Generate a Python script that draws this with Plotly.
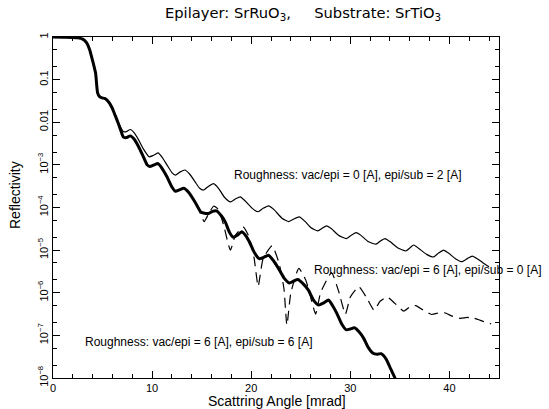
import numpy as np
import plotly.graph_objects as go

# ---- data (log10 of reflectivity) ----
x_66 = [0, 1, 2, 2.5, 3.0, 3.4, 3.7, 3.9, 4.1, 4.3, 4.5, 4.7, 4.95, 5.2, 5.45, 5.7, 5.96, 6.2, 6.46, 6.7,
        6.97, 7.1, 7.4, 7.8, 8.2, 8.65, 9.1, 9.5, 9.77, 10.2, 10.6, 11.0, 11.5, 12.0, 12.35, 12.8, 13.2, 13.7,
        14.4, 14.9, 15.2, 15.7, 16.1, 16.5, 17.0, 17.4, 17.8, 18.2, 18.6, 19.05, 19.5, 19.9, 20.3, 20.8, 21.25,
        21.75, 22.25, 22.75, 23.3, 23.85, 24.25, 24.7, 25.2, 25.8, 26.3, 26.8, 27.3, 27.8, 28.2, 28.65, 29.1,
        29.6, 30.0, 30.4, 30.9, 31.35, 31.8, 32.3, 32.7, 33.1, 33.6, 34.1, 34.5, 35.0]
logR_66 = [0, -0.005, -0.01, -0.02, -0.05, -0.14, -0.3, -0.47, -0.65, -0.85, -1.31, -1.4, -1.43, -1.44, -1.48,
           -1.55, -1.66, -1.8, -1.95, -2.1, -2.28, -2.35, -2.36, -2.32, -2.4, -2.58, -2.8, -3.0, -3.04, -3.0,
           -2.97, -3.08, -3.28, -3.52, -3.62, -3.58, -3.55, -3.65, -3.9, -4.1, -4.13, -4.14, -4.09, -4.08, -4.2,
           -4.35, -4.58, -4.70, -4.65, -4.57, -4.68, -4.85, -5.05, -5.2, -5.17, -5.12, -5.25, -5.43, -5.65,
           -5.77, -5.73, -5.69, -5.78, -5.95, -6.18, -6.29, -6.24, -6.17, -6.3, -6.49, -6.72, -6.87, -6.85,
           -6.82, -6.92, -7.07, -7.28, -7.42, -7.44, -7.43, -7.55, -7.8, -8.0, -8.3]

x_02 = [0, 1, 2, 2.5, 3.0, 3.4, 3.7, 3.9, 4.1, 4.3, 4.5, 4.7, 4.95, 5.2, 5.45, 5.7, 5.96, 6.2, 6.46, 6.7,
        6.97, 7.1, 7.4, 7.8, 8.2, 8.65, 9.1, 9.7, 10.1, 10.6, 11.0, 11.5, 12.0, 12.35, 12.8, 13.3, 13.8, 14.4,
        14.8, 15.2, 15.7, 16.2, 16.7, 17.3, 17.9, 18.4, 18.9, 19.4, 20.1, 20.7, 21.2, 21.75, 22.3, 23.1, 23.8,
        24.3, 24.85, 25.4, 26.0, 26.7, 27.2, 27.6, 28.1, 28.8, 29.6, 30.1, 30.6, 31.1, 31.8, 32.6, 33.0, 33.5,
        34.0, 34.8, 35.6, 36.0, 36.4, 36.9, 37.7, 38.4, 38.9, 39.4, 39.9, 40.6, 41.25, 41.8, 42.3, 42.8,
        43.4, 44.0]
logR_02 = [0, -0.005, -0.01, -0.02, -0.05, -0.14, -0.3, -0.47, -0.65, -0.85, -1.31, -1.4, -1.43, -1.44, -1.48,
           -1.55, -1.65, -1.78, -1.93, -2.06, -2.18, -2.22, -2.22, -2.17, -2.25, -2.42, -2.62, -2.81, -2.78,
           -2.72, -2.82, -3.0, -3.18, -3.24, -3.17, -3.12, -3.22, -3.42, -3.55, -3.59, -3.5, -3.44, -3.55,
           -3.76, -3.87, -3.8, -3.75, -3.85, -4.02, -4.1, -4.02, -3.96, -4.05, -4.25, -4.33, -4.27, -4.22,
           -4.32, -4.47, -4.55, -4.48, -4.43, -4.5, -4.65, -4.73, -4.65, -4.59, -4.66, -4.8, -4.86, -4.79,
           -4.73, -4.8, -4.95, -5.02, -4.95, -4.88, -4.96, -5.1, -5.16, -5.07, -5.0, -5.07, -5.2, -5.27, -5.2,
           -5.14, -5.2, -5.3, -5.39]

x_60 = [0, 1, 2, 2.5, 3.0, 3.4, 3.7, 3.9, 4.1, 4.3, 4.5, 4.7, 4.95, 5.2, 5.45, 5.7, 5.96, 6.2, 6.46, 6.7,
        6.97, 7.1, 7.4, 7.8, 8.2, 8.65, 9.1, 9.5, 9.77, 10.2, 10.6, 11.0, 11.5, 12.0, 12.35, 12.8, 13.2, 13.7,
        14.4, 14.8, 15.25, 15.7, 16.2, 16.7, 17.2, 17.9, 18.4, 19.2, 19.8, 20.3, 20.7, 21.2, 22.1, 22.8, 23.3,
        23.6, 24.0, 24.8, 25.5, 26.1, 26.5, 27.0, 28.1, 28.8, 29.5, 30.0, 30.85, 31.6, 32.4, 33.0, 33.7,
        34.5, 35.4, 36.0, 36.6, 37.3, 38.2, 38.8, 39.5, 40.3, 41.1, 41.8, 42.5, 43.4, 44.2]
logR_60 = [0, -0.005, -0.01, -0.02, -0.05, -0.14, -0.3, -0.47, -0.65, -0.85, -1.31, -1.4, -1.43, -1.44, -1.48,
           -1.55, -1.66, -1.8, -1.95, -2.1, -2.28, -2.35, -2.36, -2.32, -2.4, -2.58, -2.8, -3.0, -3.04, -3.0,
           -2.97, -3.08, -3.28, -3.52, -3.62, -3.58, -3.55, -3.65, -3.9, -4.1, -4.33, -4.15, -3.97, -4.05,
           -4.4, -5.0, -4.65, -4.46, -4.7, -5.2, -5.85, -5.2, -4.9, -5.3, -5.9, -6.76, -6.0, -5.43, -5.7,
           -6.2, -6.5, -6.0, -5.53, -5.95, -6.5, -6.1, -5.86, -6.1, -6.41, -6.2, -6.1, -6.25, -6.43, -6.33,
           -6.3, -6.4, -6.51, -6.48, -6.47, -6.55, -6.6, -6.58, -6.6, -6.67, -6.73]

y_tickvals = [1, 0.1, 0.01, 1e-3, 1e-4, 1e-5, 1e-6, 1e-7, 1e-8]
y_ticktext = ["1", "0.1", "0.01", "10<sup>\u22123</sup>", "10<sup>\u22124</sup>", "10<sup>\u22125</sup>",
              "10<sup>\u22126</sup>", "10<sup>\u22127</sup>", "10<sup>\u22128</sup>"]
x_tickvals = [0, 10, 20, 30, 40]
x_ticktext = ["0", "10", "20", "30", "40"]

labels = ["Roughness: vac/epi = 0 [A], epi/sub = 2 [A]",
          "Roughness: vac/epi = 6 [A], epi/sub = 0 [A]",
          "Roughness: vac/epi = 6 [A], epi/sub = 6 [A]"]
title = "Epilayer: SrRuO<sub>3</sub>,\u00a0\u00a0\u00a0\u00a0 Substrate: SrTiO<sub>3</sub>"

FONT = "Liberation Sans"

fig = go.Figure()
fig.add_trace(go.Scatter(x=x_02, y=10 ** np.array(logR_02), mode="lines",
                         line=dict(color="black", width=1.2, shape="spline", smoothing=0.5), name=labels[0]))
fig.add_trace(go.Scatter(x=x_60, y=10 ** np.array(logR_60), mode="lines",
                         line=dict(color="black", width=1.2, dash="10px,6px", shape="spline", smoothing=0.5),
                         name=labels[1]))
fig.add_trace(go.Scatter(x=x_66, y=10 ** np.array(logR_66), mode="lines",
                         line=dict(color="black", width=3, shape="spline", smoothing=0.5), name=labels[2]))

# body margin is removed by post_script, so the figure fills the window
W, H = 549, 409
L_pg, R_pg, T_pg, B_pg = 53, 499, 37, 378   # plot area edges in page pixels
L, T = L_pg, T_pg
R = W - R_pg
B = H - B_pg
pw, ph = R_pg - L_pg, B_pg - T_pg


def px(xp):
    return (xp - L_pg) / pw


def py(yp):
    return (B_pg - yp) / ph


fig.update_layout(
    width=W, height=H, margin=dict(l=L, r=R, t=T, b=B, autoexpand=False),
    plot_bgcolor="white", paper_bgcolor="white", showlegend=False,
    font=dict(family=FONT, size=11, color="black"),
    xaxis=dict(range=[0, 45], tickvals=x_tickvals, ticktext=x_ticktext, ticks="inside", ticklen=7,
               tickcolor="black", showline=True, linecolor="black", linewidth=1, mirror="ticks",
               showgrid=False, zeroline=False, tickfont=dict(size=11),
               minor=dict(dtick=2, ticks="inside", ticklen=4, tickcolor="black", showgrid=False)),
    yaxis=dict(type="log", range=[-8, 0], tickvals=y_tickvals, ticktext=y_ticktext, ticks="inside",
               ticklen=7, tickcolor="black", showline=True, linecolor="black", linewidth=1, mirror="ticks",
               showgrid=False, zeroline=False, tickangle=-90, tickfont=dict(size=11),
               minor=dict(ticks="inside", ticklen=4, tickcolor="black", showgrid=False)),
)

ann = [
    dict(text=title, x=px(163), y=py(13), xanchor="left", yanchor="middle",
         font=dict(family="DejaVu Sans", size=14.7)),
    dict(text="Scattring Angle [mrad]", x=px(277), y=py(401), xanchor="center", yanchor="middle",
         font=dict(size=14)),
    dict(text="Reflectivity", x=px(15), y=py(195), xanchor="center", yanchor="middle", textangle=-90,
         font=dict(size=14)),
    dict(text=labels[0], x=px(232), y=py(175), xanchor="left", yanchor="middle", font=dict(size=12)),
    dict(text=labels[1], x=px(312), y=py(270), xanchor="left", yanchor="middle", font=dict(size=12)),
    dict(text=labels[2], x=px(83), y=py(342), xanchor="left", yanchor="middle", font=dict(size=12)),
]
for a in ann:
    a.update(xref="paper", yref="paper", showarrow=False)
fig.update_layout(annotations=ann)

fig.write_html("out.html", config={"displayModeBar": False},
               post_script="document.body.style.margin='0px'; document.body.style.padding='0px';")
